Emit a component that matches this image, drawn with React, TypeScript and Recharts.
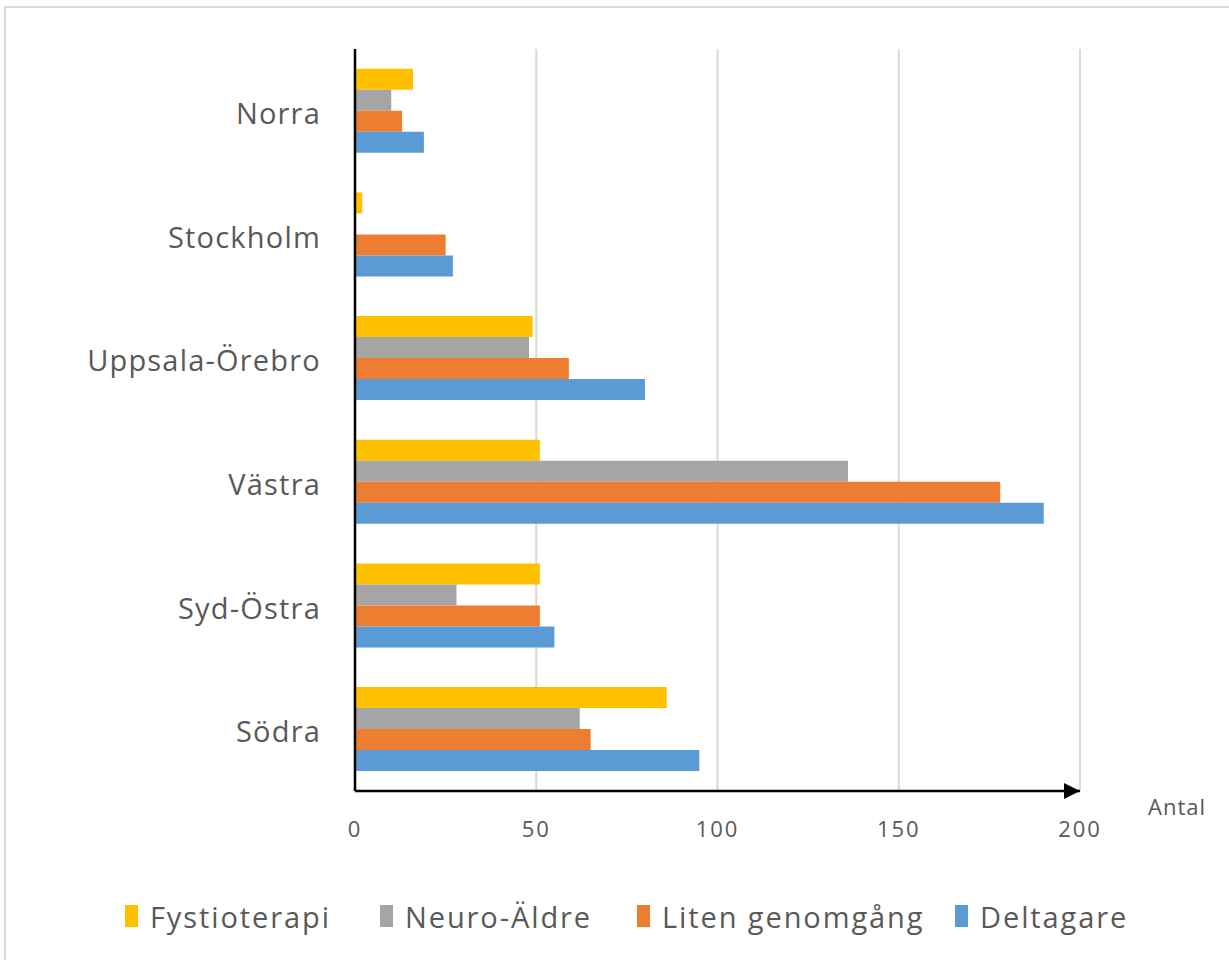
import React from 'react';
import { BarChart, Bar, XAxis, YAxis, CartesianGrid, Legend, Label } from 'recharts';

const regions = ['Norra', 'Stockholm', 'Uppsala-Örebro', 'Västra', 'Syd-Östra', 'Södra'];
const fysioterapi = [16, 2, 49, 51, 51, 86];
const neuroAldre = [10, 0, 48, 136, 28, 62];
const litenGenomgang = [13, 25, 59, 178, 51, 65];
const deltagare = [19, 27, 80, 190, 55, 95];
const xTicks = [0, 50, 100, 150, 200];

const seriesInfo = [
  { key: 'fysio', name: 'Fystioterapi', color: '#FFC000' },
  { key: 'neuro', name: 'Neuro-Äldre', color: '#A5A5A5' },
  { key: 'liten', name: 'Liten genomgång', color: '#ED7D31' },
  { key: 'delta', name: 'Deltagare', color: '#5B9BD5' },
];

const data = regions.map((region, i) => ({
  region,
  fysio: fysioterapi[i],
  neuro: neuroAldre[i],
  liten: litenGenomgang[i],
  delta: deltagare[i],
}));

const FONT = '"Open Sans", sans-serif';
const TEXT = '#595959';
// left edge of each legend key (px)
const legendLeft = [125, 380, 637, 955];

const renderLegend = () => (
  <div style={{ position: 'relative', height: 70, fontFamily: FONT, fontSize: 29, color: TEXT, letterSpacing: 1.9 }}>
    {seriesInfo.map((s, i) => (
      <div key={s.key} style={{ position: 'absolute', left: legendLeft[i], top: 45, height: 40, display: 'flex', alignItems: 'center', whiteSpace: 'nowrap' }}>
        <span style={{ display: 'inline-block', width: 13, height: 22, background: s.color, marginRight: 12 }} />
        <span>{s.name}</span>
      </div>
    ))}
  </div>
);

const App: React.FC = () => {
  return (
    <div style={{ position: 'absolute', left: 0, top: 0, width: 1229, height: 960, background: '#fff', overflow: 'hidden' }}>
      <div style={{ position: 'absolute', left: 4, top: 6, width: 1240, height: 960, borderLeft: '2px solid #d9d9d9', borderTop: '2px solid #d9d9d9' }} />
      <BarChart
        width={1229}
        height={960}
        data={data}
        layout="vertical"
        margin={{ top: 49, right: 149, left: 0, bottom: 39 }}
        barCategoryGap="16%"
        barGap={0}
        style={{ position: 'absolute', left: 0, top: 0 }}
      >
        <defs>
          <marker id="arrowHead" viewBox="0 0 10 10" refX="10" refY="5" markerWidth="18" markerHeight="16" orient="auto" markerUnits="userSpaceOnUse">
            <path d="M0,0 L10,5 L0,10 z" fill="#000" />
          </marker>
        </defs>
        <CartesianGrid horizontal={false} stroke="#d9d9d9" strokeWidth={2} />
        <XAxis
          type="number"
          domain={[0, 200]}
          ticks={xTicks}
          tickLine={false}
          tickSize={0}
          tickMargin={30}
          height={60}
          axisLine={{ stroke: '#000', strokeWidth: 2.5, markerEnd: 'url(#arrowHead)' }}
          tick={{ fill: TEXT, fontSize: 22, fontFamily: FONT, letterSpacing: 2 }}
        >
          <Label
            content={({ viewBox }: any) => (
              <text x={viewBox.x + viewBox.width + 68} y={viewBox.y + 24} fill={TEXT} fontSize={22} fontFamily={FONT} letterSpacing={1}>
                Antal
              </text>
            )}
          />
        </XAxis>
        <YAxis
          type="category"
          dataKey="region"
          width={355}
          tickLine={false}
          tickSize={0}
          tickMargin={34}
          axisLine={{ stroke: '#000', strokeWidth: 2.5 }}
          tick={{ fill: TEXT, fontSize: 29, fontFamily: FONT, letterSpacing: 1.2, dy: 3 }}
        />
        <Legend verticalAlign="bottom" height={70} content={renderLegend} />
        {seriesInfo.map((s) => (
          <Bar key={s.key} dataKey={s.key} name={s.name} fill={s.color} isAnimationActive={false} />
        ))}
      </BarChart>
    </div>
  );
};

export default App;
